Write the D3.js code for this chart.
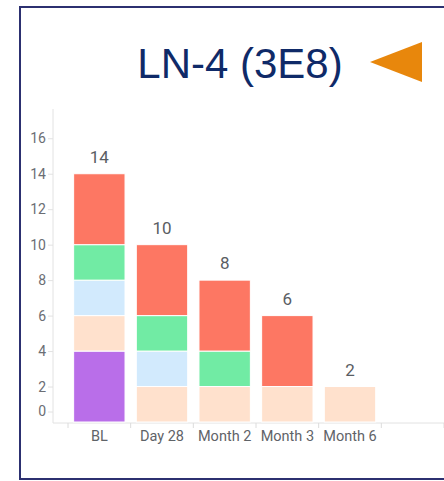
<!DOCTYPE html>
<html>
<head>
<meta charset="utf-8">
<script src="https://cdn.jsdelivr.net/npm/d3@7"></script>
<style>
  body { margin: 0; background: #fff; }
  svg { display: block; }
</style>
</head>
<body>
<svg id="chart"></svg>
<script>
// categories along the x axis (last band is empty)
var categories = ["BL", "Day 28", "Month 2", "Month 3", "Month 6", ""];
// stacked series, bottom to top
var purple    = [4, 0, 0, 0, 0, 0];
var peach     = [2, 2, 2, 2, 2, 0];
var lightBlue = [2, 2, 0, 0, 0, 0];
var green     = [2, 2, 2, 0, 0, 0];
var red       = [4, 4, 4, 4, 0, 0];
var totals    = [14, 10, 8, 6, 2, null];
var yTicks    = [0, 2, 4, 6, 8, 10, 12, 14, 16];

var seriesNames = ["purple", "peach", "lightBlue", "green", "red"];
var colors = {
  purple: "#b96ee9",
  peach: "#ffe1cd",
  lightBlue: "#d2eafd",
  green: "#71eba4",
  red: "#fd7763"
};

var W = 444, H = 481;
var svg = d3.select("#chart").attr("width", W).attr("height", H);

// frame of the slide
svg.append("rect")
  .attr("x", 20).attr("y", 7)
  .attr("width", 520).attr("height", 472)
  .attr("fill", "none")
  .attr("stroke", "#2c3070")
  .attr("stroke-width", 2);

// title
svg.append("text")
  .attr("x", 240).attr("y", 78)
  .attr("text-anchor", "middle")
  .style("font-family", "'Liberation Sans', Arial, sans-serif")
  .style("font-size", "42px")
  .attr("fill", "#0f2a68")
  .text("LN-4 (3E8)");

// orange pointer
svg.append("path")
  .attr("d", "M370,62 L422,42 L422,82 Z")
  .attr("fill", "#e8870c");

// table for stacking
var table = categories.map(function(c, i) {
  return { cat: c, purple: purple[i], peach: peach[i], lightBlue: lightBlue[i],
           green: green[i], red: red[i], total: totals[i] };
});

var x = d3.scaleBand()
  .domain(categories)
  .range([68, 444]);

var y = d3.scaleLinear()
  .domain([0, 17.65])
  .range([422, 109]);

var stack = d3.stack().keys(seriesNames);
var layers = stack(table);

var bw = x.bandwidth() * 0.82;
var off = (x.bandwidth() - bw) / 2;

// y axis
var yAxis = svg.append("g")
  .attr("transform", "translate(53,0)")
  .call(d3.axisLeft(y).tickValues(yTicks).tickSize(5).tickPadding(2));
yAxis.select(".domain").attr("stroke", "#e2e2e2").attr("d", "M0,109V423");
yAxis.selectAll(".tick line").attr("stroke", "#e2e2e2");
yAxis.selectAll(".tick text")
  .attr("fill", "#6b6e74")
  .style("font-family", "Roboto, sans-serif")
  .style("font-size", "14px");
// the zero label is lifted off the x axis
yAxis.selectAll(".tick").filter(function(d) { return d === 0; })
  .attr("transform", "translate(0," + (y(0) - 10) + ")");

// x axis
var xAxis = svg.append("g")
  .attr("transform", "translate(0,423)")
  .call(d3.axisBottom(x).tickSize(0).tickPadding(8));
xAxis.select(".domain").attr("stroke", "#e2e2e2").attr("d", "M53,0H444");
xAxis.selectAll(".tick text")
  .attr("fill", "#5f6368")
  .style("font-family", "Roboto, sans-serif")
  .style("font-size", "14.5px");

// band boundary ticks
var bounds = categories.map(function(c) { return x(c); }).concat([x.range()[1]]);
svg.append("g").selectAll("line")
  .data(bounds)
  .enter().append("line")
  .attr("x1", function(d) { return d; })
  .attr("x2", function(d) { return d; })
  .attr("y1", 423).attr("y2", 428)
  .attr("stroke", "#dcdcdc");

// stacked bars
svg.append("g").selectAll("g")
  .data(layers)
  .enter().append("g")
  .attr("fill", function(d) { return colors[d.key]; })
  .selectAll("rect")
  .data(function(d) { return d.filter(function(s) { return s[1] - s[0] > 0; }); })
  .enter().append("rect")
  .attr("x", function(d) { return x(d.data.cat) + off; })
  .attr("y", function(d) { return y(d[1]); })
  .attr("width", bw)
  .attr("height", function(d) { return y(d[0]) - y(d[1]); })
  .attr("stroke", "#ffffff")
  .attr("stroke-width", 1);

// totals above bars
svg.append("g").selectAll("text")
  .data(table.filter(function(d) { return d.total !== null; }))
  .enter().append("text")
  .attr("x", function(d) { return x(d.cat) + x.bandwidth() / 2; })
  .attr("y", function(d) { return y(d.total) - 11; })
  .attr("text-anchor", "middle")
  .attr("fill", "#5a5d63")
  .style("font-family", "Roboto, sans-serif")
  .style("font-size", "17px")
  .text(function(d) { return d.total; });
</script>
</body>
</html>
